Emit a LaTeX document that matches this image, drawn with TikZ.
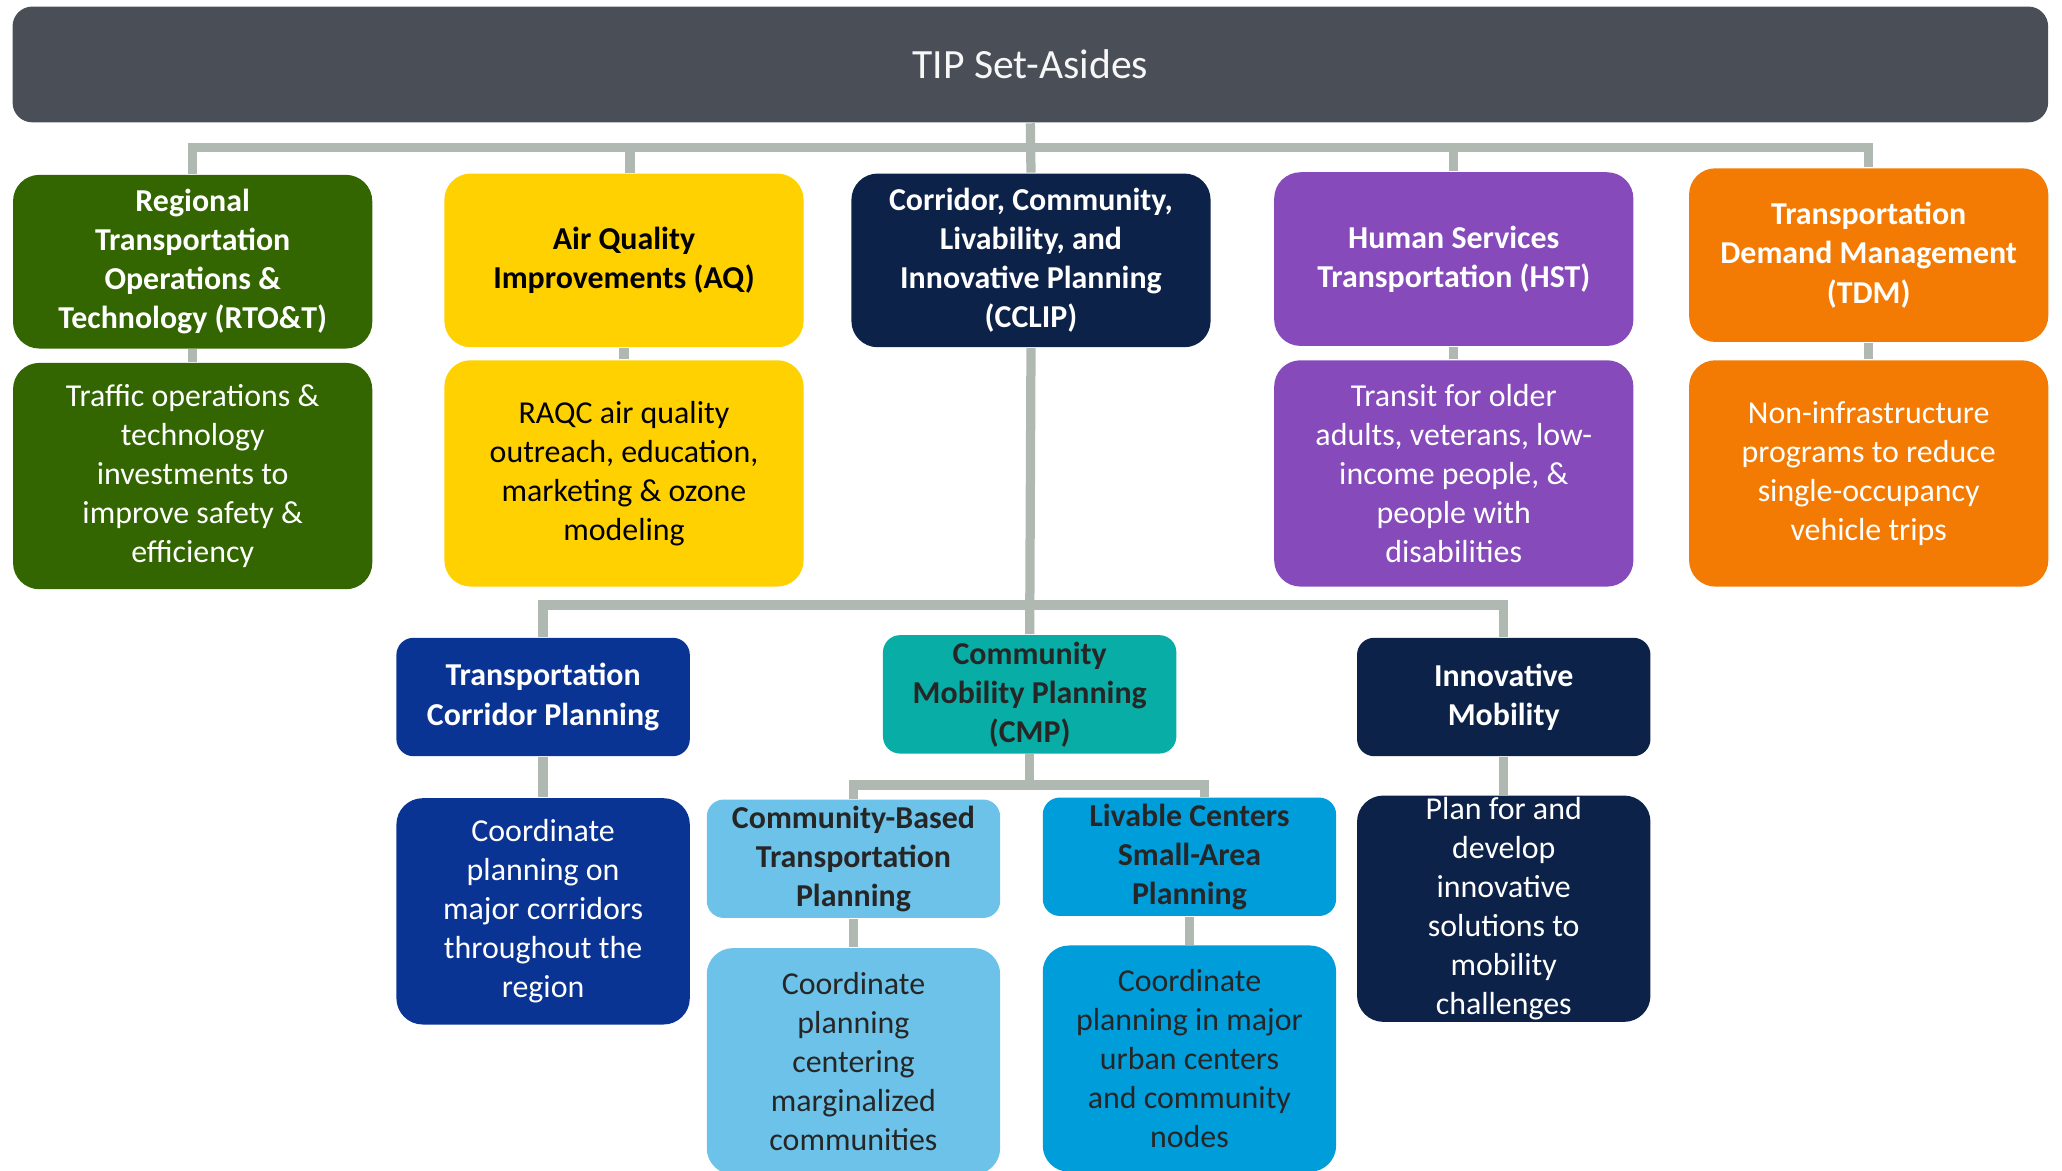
\documentclass[tikz,border=0pt]{standalone}
\usepackage{fontspec}
\setmainfont{Carlito}
\definecolor{titlegray}{HTML}{4A4F57}
\definecolor{linkgray}{HTML}{B0B8B2}
\definecolor{rtogreen}{HTML}{336600}
\definecolor{aqyellow}{HTML}{FFD100}
\definecolor{cclipnavy}{HTML}{0C2249}
\definecolor{hstpurple}{HTML}{864ABB}
\definecolor{tdmorange}{HTML}{F47B03}
\definecolor{tcpblue}{HTML}{0A3494}
\definecolor{cmpteal}{HTML}{08ADA6}
\definecolor{cbtpblue}{HTML}{6CC2E8}
\definecolor{lcblue}{HTML}{009DDB}
\begin{document}
\begin{tikzpicture}[x=0.01cm,y=-0.01cm,
		box/.style={rectangle, rounded corners=0.2cm, align=center, inner sep=0pt, font=\fontsize{6.9}{8.45}\selectfont},
		head/.style={box, font=\fontsize{6.9}{8.45}\selectfont\bfseries},
		top/.style={minimum width=2.73cm, minimum height=1.32cm},
		desc/.style={minimum width=2.73cm, minimum height=1.72cm},
		sub/.style={minimum width=2.23cm, minimum height=0.9cm, rounded corners=0.13cm},
		subdesc/.style={minimum width=2.23cm, minimum height=1.72cm},
		link/.style={linkgray, line width=2pt}]
		\useasboundingbox (0,0) rectangle (1568,890);
		\clip (0,0) rectangle (1568,890);
		\node[box, fill=titlegray, text=white!94!gray, minimum width=15.47cm, minimum height=0.88cm, rounded corners=0.15cm, font=\fontsize{9}{11}\selectfont] (title) at (783.5,49) {TIP Set-Asides};
		\node[head, top, fill=rtogreen, text=white] (rto) at (146.5,199) {Regional\\Transportation\\Operations \&\\Technology (RTO\&T)};
		\node[head, top, fill=aqyellow] (aq) at (474.5,198) {Air Quality\\Improvements (AQ)};
		\node[head, top, fill=cclipnavy, text=white] (cclip) at (784,198) {Corridor, Community,\\Livability, and\\Innovative Planning\\(CCLIP)};
		\node[head, top, fill=hstpurple, text=white] (hst) at (1105.5,197) {Human Services\\Transportation (HST)};
		\node[head, top, fill=tdmorange, text=white] (tdm) at (1421,194) {Transportation\\Demand Management\\(TDM)};
		\node[box, desc, fill=rtogreen, text=white] (rtod) at (146.5,362) {Traffic operations \&\\technology\\investments to\\improve safety \&\\efficiency};
		\node[box, desc, fill=aqyellow] (aqd) at (474.5,360) {RAQC air quality\\outreach, education,\\marketing \& ozone\\modeling};
		\node[box, desc, fill=hstpurple, text=white] (hstd) at (1105.5,360) {Transit for older\\adults, veterans, low-\\income people, \&\\people with\\disabilities};
		\node[box, desc, fill=tdmorange, text=white] (tdmd) at (1421,360) {Non-infrastructure\\programs to reduce\\single-occupancy\\vehicle trips};
		\node[head, sub, fill=tcpblue, text=white] (tcp) at (413,530) {Transportation\\Corridor Planning};
		\node[head, sub, fill=cmpteal, text=black!85] (cmp) at (783,528) {Community\\Mobility Planning\\(CMP)};
		\node[head, sub, fill=cclipnavy, text=white] (im) at (1143.5,530) {Innovative\\Mobility};
		\node[box, subdesc, fill=tcpblue, text=white] (tcpd) at (413,693) {Coordinate\\planning on\\major corridors\\throughout the\\region};
		\node[head, sub, fill=cbtpblue, text=black!85] (cbtp) at (649,653) {Community-Based\\Transportation\\Planning};
		\node[head, sub, fill=lcblue, text=black!85] (lc) at (904.5,651.5) {Livable Centers\\Small-Area\\Planning};
		\node[box, subdesc, fill=cclipnavy, text=white] (imd) at (1143.5,691) {Plan for and\\develop\\innovative\\solutions to\\mobility\\challenges};
		\node[box, subdesc, fill=cbtpblue, text=black!85] (cbtpd) at (649,807) {Coordinate\\planning\\centering\\marginalized\\communities};
		\node[box, subdesc, fill=lcblue, text=black!85] (lcd) at (904.5,805) {Coordinate\\planning in major\\urban centers\\and community\\nodes};
		\coordinate (bus1) at (784,112);
		\coordinate (bus2) at (784,460);
		\coordinate (bus3) at (783,597);
		\draw[link] (title.south) -- (cclip.north);
		\draw[link] (rto.north) |- (bus1) -| (tdm.north);
		\draw[link] ([xshift=0.045cm]aq.north) -- ([xshift=0.045cm]aq.north |- bus1);
		\draw[link] (hst.north) -- (hst.north |- bus1);
		\draw[link] (rto) -- (rtod);
		\draw[link] (aq) -- (aqd);
		\draw[link] (hst) -- (hstd);
		\draw[link] (tdm) -- (tdmd);
		\draw[link] (cclip.south) -- (cmp.north);
		\draw[link] (tcp.north) |- (bus2) -| (im.north);
		\draw[link] (tcp) -- (tcpd);
		\draw[link] (im) -- (imd);
		\draw[link] (cmp.south) -- (bus3);
		\draw[link] (cbtp.north) |- (bus3) -| ([xshift=0.115cm]lc.north);
		\draw[link] (cbtp) -- (cbtpd);
		\draw[link] (lc) -- (lcd);
	\end{tikzpicture}
\end{document}
